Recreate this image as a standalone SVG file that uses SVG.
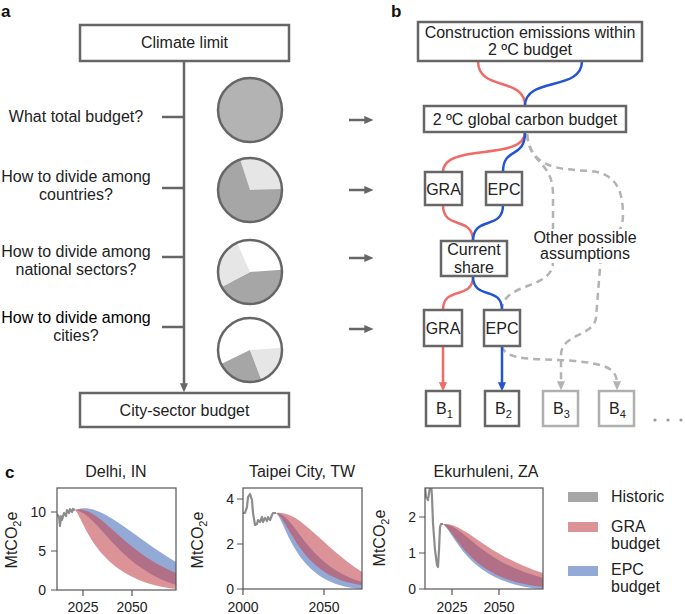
<svg xmlns="http://www.w3.org/2000/svg" width="685" height="614" viewBox="0 0 685 614">
<defs>
<style>
text{font-family:"Liberation Sans",Arial,sans-serif;font-size:16px;fill:#222}
.c{text-anchor:middle}
.e{text-anchor:end}
.pl{font-weight:bold;font-size:17px;fill:#111}
.tk{font-size:14px}
.box{fill:#fff;stroke:#666;stroke-width:2.5}
.boxl{fill:#fff;stroke:#b0b0b0;stroke-width:2.5}
.ln{stroke:#666;stroke-width:2.5;fill:none}
.red{stroke:#ee6b68;stroke-width:2.5;fill:none}
.blue{stroke:#2454d0;stroke-width:2.5;fill:none}
.dash{stroke:#b3b3b3;stroke-width:2.5;fill:none;stroke-dasharray:7 5}
.pie{fill:none;stroke:#666;stroke-width:2.5}
.ax{fill:none;stroke:#555;stroke-width:1.2}
.hist{fill:none;stroke:#8c8c8c;stroke-width:2.2;stroke-linejoin:round}
.bb{fill:rgb(75,112,187);fill-opacity:0.6}
.rb{fill:rgb(197,75,82);fill-opacity:0.6}
</style>
<marker id="ahd" viewBox="0 0 10 10" refX="3" refY="5" markerWidth="9" markerHeight="9" markerUnits="userSpaceOnUse" orient="auto"><path d="M0,0.5 L10,5 L0,9.5z" fill="#666"/></marker>
<marker id="ahr" viewBox="0 0 10 10" refX="3" refY="5" markerWidth="9" markerHeight="9" markerUnits="userSpaceOnUse" orient="auto"><path d="M0,0.5 L10,5 L0,9.5z" fill="#ee6b68"/></marker>
<marker id="ahb" viewBox="0 0 10 10" refX="3" refY="5" markerWidth="9" markerHeight="9" markerUnits="userSpaceOnUse" orient="auto"><path d="M0,0.5 L10,5 L0,9.5z" fill="#2454d0"/></marker>
<marker id="ahg" viewBox="0 0 10 10" refX="3" refY="5" markerWidth="9" markerHeight="9" markerUnits="userSpaceOnUse" orient="auto"><path d="M0,0.5 L10,5 L0,9.5z" fill="#b3b3b3"/></marker>
<clipPath id="cp1"><rect x="57" y="488" width="119" height="102"/></clipPath>
<clipPath id="cp2"><rect x="243" y="488" width="119" height="101"/></clipPath>
<clipPath id="cp3"><rect x="425" y="488" width="118" height="101"/></clipPath>
</defs>
<rect width="685" height="614" fill="#fff"/>

<!-- panel labels -->
<text class="pl" x="1" y="17">a</text>
<text class="pl" x="391" y="17">b</text>
<text class="pl" x="5" y="478">c</text>

<!-- panel a connectors -->
<g id="connectors-a">
<line class="ln" x1="184" y1="61" x2="184" y2="386" marker-end="url(#ahd)"/>
<line class="ln" x1="162" y1="117" x2="184" y2="117"/>
<line class="ln" x1="162" y1="188" x2="184" y2="188"/>
<line class="ln" x1="162" y1="257" x2="184" y2="257"/>
<line class="ln" x1="162" y1="327" x2="184" y2="327"/>
<line class="ln" x1="349" y1="120" x2="367" y2="120" marker-end="url(#ahd)"/>
<line class="ln" x1="349" y1="190" x2="367" y2="190" marker-end="url(#ahd)"/>
<line class="ln" x1="349" y1="258" x2="367" y2="258" marker-end="url(#ahd)"/>
<line class="ln" x1="349" y1="329" x2="367" y2="329" marker-end="url(#ahd)"/>
</g>

<g id="climate-limit"><rect class="box" x="80" y="25" width="209" height="36"/><text class="c" x="184.5" y="48">Climate limit</text></g>
<g id="city-sector-budget"><rect class="box" x="80" y="393" width="209" height="34"/><text class="c" x="184.5" y="416">City-sector budget</text></g>

<g id="q-total"><text class="c" x="76" y="122">What total budget?</text></g>
<g id="q-countries"><text class="c" x="76" y="182">How to divide among</text><text class="c" x="76" y="200">countries?</text></g>
<g id="q-sectors"><text class="c" x="76" y="257">How to divide among</text><text class="c" x="76" y="275">national sectors?</text></g>
<g id="q-cities"><text class="c" x="76" y="323" style="fill:#000">How to divide among</text><text class="c" x="76" y="341">cities?</text></g>

<g id="pie-total"><circle cx="250" cy="110" r="32" fill="#b3b3b3"/><circle class="pie" cx="250" cy="110" r="32"/></g>
<g id="pie-countries"><circle cx="250" cy="190" r="32" fill="#a6a6a6"/><path d="M250,190 L240.1,159.6 A32,32 0 0 1 282,188.9 Z" fill="#e6e6e6"/><circle class="pie" cx="250" cy="190" r="32"/></g>
<g id="pie-sectors"><circle cx="250" cy="272" r="32" fill="#fff"/><path d="M250,272 L281.9,269.8 A32,32 0 0 1 221.7,287 Z" fill="#a6a6a6"/><path d="M250,272 L221.7,287 A32,32 0 0 1 237,242.8 Z" fill="#e6e6e6"/><circle class="pie" cx="250" cy="272" r="32"/></g>
<g id="pie-cities"><circle cx="250" cy="350" r="32" fill="#fff"/><path d="M250,350 L261.5,379.9 A32,32 0 0 1 221.2,364 Z" fill="#a6a6a6"/><path d="M250,350 L281.9,347.8 A32,32 0 0 1 261.5,379.9 Z" fill="#e6e6e6"/><circle class="pie" cx="250" cy="350" r="32"/></g>

<!-- panel b connectors -->
<g id="connectors-b">
<path class="dash" d="M527,134 C529,165 553,160 553,195 L553,262 C553,290 502,282 502,310"/>
<path class="dash" d="M527,134 C531,168 556,169 590,171 C612,173 623,185 623,215 C623,240 600,245 600,268 L596,318 C594,336 561,334 561,355 L561,384" marker-end="url(#ahg)"/>
<path class="dash" d="M502,346 C505,362 540,358 575,361 C605,364 617,368 617,384" marker-end="url(#ahg)"/>
<path class="red" d="M478,61 C478,92 525,76 525,106"/>
<path class="blue" d="M582,61 C582,92 525,76 525,106"/>
<path class="red" d="M525,132 C525,162 443,142 443,172"/>
<path class="blue" d="M525,132 C525,160 503,146 503,172"/>
<path class="red" d="M443,205 C443,231 473,215 473,241"/>
<path class="blue" d="M503,205 C503,231 473,215 473,241"/>
<path class="red" d="M473,276 C473,301 443,285 443,310"/>
<path class="blue" d="M473,276 C473,301 502,285 502,310"/>
<line class="red" x1="443" y1="346" x2="443" y2="385" marker-end="url(#ahr)"/>
<line class="blue" x1="502" y1="346" x2="502" y2="385" marker-end="url(#ahb)"/>
</g>

<g id="construction"><rect class="box" x="418" y="22" width="224" height="39"/><text class="c" x="530" y="38">Construction emissions within</text><text class="c" x="530" y="55">2 ºC budget</text></g>
<g id="global-budget"><rect class="box" x="424" y="106" width="202" height="26"/><text class="c" x="525" y="124.5">2 ºC global carbon budget</text></g>
<g id="gra1"><rect class="box" x="425" y="172" width="37" height="33"/><text class="c" x="443.5" y="194.5">GRA</text></g>
<g id="epc1"><rect class="box" x="486" y="172" width="36" height="33"/><text class="c" x="504" y="194.5">EPC</text></g>
<g id="current-share"><rect class="box" x="441" y="241" width="66" height="35"/><text class="c" x="474" y="255">Current</text><text class="c" x="474" y="273">share</text></g>
<g id="gra2"><rect class="box" x="424" y="310" width="38" height="36"/><text class="c" x="443" y="334">GRA</text></g>
<g id="epc2"><rect class="box" x="484" y="310" width="36" height="36"/><text class="c" x="502" y="334">EPC</text></g>
<g id="other-assumptions"><rect x="531" y="229" width="108" height="34" fill="#fff"/><text class="c" x="585" y="243">Other possible</text><text class="c" x="585" y="259">assumptions</text></g>
<g id="b1"><rect class="box" x="426" y="391" width="34" height="35"/><text x="436" y="414">B<tspan dy="4" font-size="11">1</tspan></text></g>
<g id="b2"><rect class="box" x="485" y="391" width="34" height="35"/><text x="495" y="414">B<tspan dy="4" font-size="11">2</tspan></text></g>
<g id="b3"><rect class="boxl" x="543" y="391" width="35" height="35"/><text x="553" y="414">B<tspan dy="4" font-size="11">3</tspan></text></g>
<g id="b4"><rect class="boxl" x="599" y="391" width="35" height="35"/><text x="609" y="414">B<tspan dy="4" font-size="11">4</tspan></text></g>
<g id="more"><circle cx="655" cy="420" r="1.6" fill="#999"/><circle cx="668" cy="420" r="1.6" fill="#999"/><circle cx="681" cy="420" r="1.6" fill="#999"/></g>

<!-- panel c: Delhi -->
<g id="chart-delhi">
<text class="c" x="116" y="477">Delhi, IN</text>
<g clip-path="url(#cp1)">
<path class="bb" d="M75,510 C100,500 130,535 176,562 L176,585 C115,565 100,515 75,510 Z"/>
<path class="rb" d="M75,510 C100,505 120,550 176,573 L176,589 C95,580 85,520 75,510 Z"/>
<polyline class="hist" points="57,514 59,517 60,526 61,516 62,520 64,513 66,516 67,510 69,513 70,509 72,512 73,509 75,510"/>
</g>
<rect class="ax" x="57" y="488" width="119" height="102"/>
<path class="ax" d="M51,512 H57 M51,551 H57 M51,590 H57 M83,590 V596 M132,590 V596"/>
<text class="tk e" x="46" y="517">10</text>
<text class="tk e" x="46" y="556">5</text>
<text class="tk e" x="46" y="595">0</text>
<text class="tk c" x="83" y="612">2025</text>
<text class="tk c" x="132" y="612">2050</text>
<text transform="translate(17,540) rotate(-90)" class="c">MtCO<tspan dy="4" font-size="11">2</tspan><tspan dy="-4">e</tspan></text>
</g>

<!-- Taipei -->
<g id="chart-taipei">
<text class="c" x="302" y="477">Taipei City, TW</text>
<g clip-path="url(#cp2)">
<path class="bb" d="M276,513 C295,513 305,565 362,582 L362,589 C295,585 288,525 276,513 Z"/>
<path class="rb" d="M276,513 C300,510 320,545 362,572 L362,585 C300,578 290,520 276,513 Z"/>
<polyline class="hist" points="243,513 245,513 247,507 248,497 250,494 252,500 253,513 255,525 257,524 258,520 260,522 262,517 263,522 265,518 267,521 268,517 270,520 272,515 273,513 276,513"/>
</g>
<rect class="ax" x="243" y="488" width="119" height="101"/>
<path class="ax" d="M237,499 H243 M237,544 H243 M237,589 H243 M243,589 V595 M324,589 V595"/>
<text class="tk e" x="234" y="504">4</text>
<text class="tk e" x="234" y="549">2</text>
<text class="tk e" x="234" y="594">0</text>
<text class="tk c" x="243" y="612">2000</text>
<text class="tk c" x="324" y="612">2050</text>
<text transform="translate(203,540) rotate(-90)" class="c">MtCO<tspan dy="4" font-size="11">2</tspan><tspan dy="-4">e</tspan></text>
</g>

<!-- Ekurhuleni -->
<g id="chart-ekurhuleni">
<text class="c" x="486" y="477">Ekurhuleni, ZA</text>
<g clip-path="url(#cp3)">
<path class="bb" d="M443,524 C463,524 480,562 543,578 L543,589 C468,584 456,535 443,524 Z"/>
<path class="rb" d="M443,524 C465,522 485,555 543,573 L543,587 C470,580 458,535 443,524 Z"/>
<polyline class="hist" points="425,486 426,497 428,500 429,493 431,482 432,497 433,523 435,550 437,565 438,567 439,550 440,527 441,524 443,524"/>
</g>
<rect class="ax" x="425" y="488" width="118" height="101"/>
<path class="ax" d="M419,517 H425 M419,553 H425 M419,589 H425 M452,589 V595 M499,589 V595"/>
<text class="tk e" x="416" y="522">2</text>
<text class="tk e" x="416" y="558">1</text>
<text class="tk e" x="416" y="594">0</text>
<text class="tk c" x="452" y="612">2025</text>
<text class="tk c" x="499" y="612">2050</text>
<text transform="translate(385,538) rotate(-90)" class="c">MtCO<tspan dy="4" font-size="11">2</tspan><tspan dy="-4">e</tspan></text>
</g>

<!-- legend -->
<g id="legend">
<rect x="568" y="492" width="30" height="10" fill="#a6a6a6"/>
<text x="611" y="502">Historic</text>
<rect x="568" y="522" width="30" height="10" fill="rgb(197,75,82)" fill-opacity="0.6"/>
<text x="611" y="532">GRA</text>
<text x="611" y="549">budget</text>
<rect x="568" y="566" width="30" height="10" fill="rgb(75,112,187)" fill-opacity="0.6"/>
<text x="611" y="575">EPC</text>
<text x="611" y="592">budget</text>
</g>
</svg>
